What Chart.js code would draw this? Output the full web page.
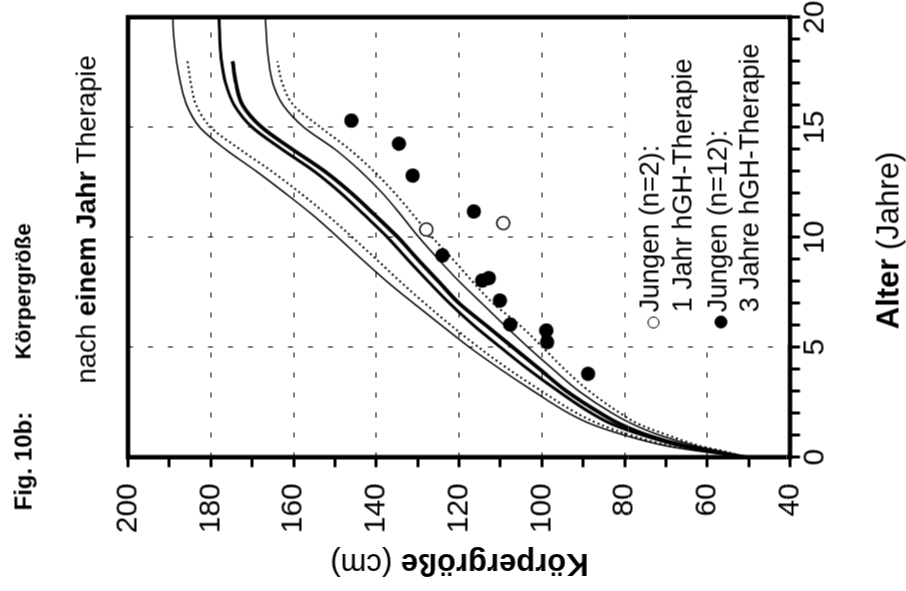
<!DOCTYPE html>
<html><head><meta charset="utf-8">
<script src="https://cdn.jsdelivr.net/npm/chart.js@4.4.1/dist/chart.umd.min.js"></script>
<style>
html,body{margin:0;padding:0;background:#fff;overflow:hidden;width:906px;height:591px}
#rot{position:absolute;left:157.5px;top:-157.5px;width:591px;height:906px;transform:rotate(-90deg);transform-origin:50% 50%;font-family:"Liberation Sans",Arial,sans-serif;color:#000;background:#fff}
#c{position:absolute;left:0;top:0}
.t{position:absolute;white-space:nowrap;line-height:1}
.b{font-weight:bold}
#legend{position:absolute;left:247px;top:627px;width:325px;height:160px;background:#fff}
.li{position:absolute;white-space:nowrap;line-height:1;font-size:27px}
.sym{position:absolute;border-radius:50%;box-sizing:border-box;border:1.4px solid #000}
</style></head><body>
<div id="rot">
<canvas id="c" width="591" height="906"></canvas>
<div class="t b" style="left:81px;top:11px;font-size:24px">Fig. 10b:</div>
<div class="t b" style="left:232px;top:12px;font-size:22.5px">Körpergröße</div>
<div class="t" style="left:208px;top:72px;font-size:27.5px">nach <span class="b">einem Jahr</span> Therapie</div>
<div class="t" style="left:26.5px;top:458.5px;font-size:31px;transform:translate(-50%,-50%) rotate(-90deg)"><span class="b">Körpergröße</span> (cm)</div>
<div class="t" style="left:351px;top:887px;font-size:31px;transform:translate(-50%,-50%)"><span class="b">Alter</span> (Jahre)</div>
<div id="legend">
  <div class="sym" style="left:16.3px;top:20.3px;width:12px;height:12px;background:#fff"></div>
  <div class="li" style="left:32.3px;top:9px">Jungen (n=2):</div>
  <div class="li" style="left:32.3px;top:42px">1 Jahr hGH-Therapie</div>
  <div class="sym" style="left:15.8px;top:86.5px;width:13px;height:13px;background:#000"></div>
  <div class="li" style="left:32.3px;top:77px">Jungen (n=12):</div>
  <div class="li" style="left:32.3px;top:109px">3 Jahre hGH-Therapie</div>
</div>
</div>
<script>
// Alter (Jahre)
const ageRef1 = [0,0.25,0.5,1,1.5,2,3,4,5,6,7,8,9,10,11,12,13,14,15,16,17,18,19,20];
const ageRef2 = [0,0.25,0.5,1,1.5,2,3,4,5,6,7,8,9,10,11,12,13,14,15,16,17,18];
// Perzentilenkurven Körpergröße (cm)
const ref1Upper = [50.8,61,69.5,80,88,93.5,102,110,117.5,124.3,131,137.5,143.5,149.3,155.3,162,169,176.5,182.7,185.8,187.3,188.3,188.9,189.2];
const ref1Median = [50.8,58.5,66,75.5,83,88,96,103.3,110,116.5,122.3,127.5,132.5,137.3,142.8,148.5,155,162.8,170,174.3,176.4,177.4,177.8,178];
const ref1Lower = [50.8,56.5,62.5,71.5,78,83,91,97.3,103.3,109,114.5,120,125,129.7,134,138.5,143.8,150,157.5,162.5,165,166,166.5,166.8];
const ref2Upper = [50.8,60,68.5,78.5,86,91.5,100,108,115.3,122,128.3,134.3,140,145.8,151.8,158.3,165.3,173,180,183.5,184.8,185.6];
const ref2Median = [50.8,58,65,74.5,81,85.8,94,100.5,107,113.5,120,125,130,134.8,140.3,146,152.5,160.3,167.7,172.3,173.9,174.7];
const ref2Lower = [50.8,55.5,61.5,69.5,76.5,81,88.5,94.5,99.8,105.3,111.8,116.8,121.5,126.5,131,135.5,140.6,146.5,153.5,160,162.7,163.9];
// Patienten
const age3J = [15.30,14.25,12.80,11.17,9.17,8.14,8.03,7.12,6.03,5.76,5.23,3.79];
const height3J = [146.0,134.5,131.2,116.4,124.0,112.8,114.4,110.1,107.6,98.9,98.7,88.8];
const age1J = [10.35,10.64];
const height1J = [127.9,109.3];
// Achsen
const ageTicks = [0,5,10,15,20];
const heightTicks = [40,60,80,100,120,140,160,180,200];

const pts = (xs, ys) => xs.map((x, i) => ({x, y: ys[i]}));
const FONT = '"Liberation Sans", Arial, sans-serif';

function curve(xs, ys, width, dash, order) {
  return {type:'line', data: pts(xs, ys), borderColor:'#000', borderWidth: width, borderDash: dash,
    borderCapStyle: 'butt', pointRadius: 0, fill:false, cubicInterpolationMode:'monotone', order};
}

const framePlugin = {
  id: 'frame',
  afterDraw(chart) {
    const {ctx, chartArea: a} = chart;
    ctx.save();
    ctx.lineWidth = 4.5;
    ctx.strokeStyle = '#000';
    ctx.strokeRect(a.left, a.top, a.right - a.left, a.bottom - a.top);
    ctx.restore();
  }
};

new Chart(document.getElementById('c'), {
  type: 'scatter',
  data: {
    datasets: [
      {data: pts(age3J, height3J), pointRadius: 7.2, backgroundColor:'#000', borderColor:'#000', borderWidth:0, showLine:false, order:0},
      {data: pts(age1J, height1J), pointRadius: 6.5, backgroundColor:'#fff', borderColor:'#000', borderWidth:1.4, showLine:false, order:0},
      curve(ageRef1, ref1Upper, 1.5, [], 2),
      curve(ageRef2, ref2Upper, 2, [2, 3], 2),
      curve(ageRef1, ref1Median, 3, [], 2),
      curve(ageRef2, ref2Median, 3.8, [], 2),
      curve(ageRef1, ref1Lower, 1.5, [], 2),
      curve(ageRef2, ref2Lower, 2, [2, 3], 2)
    ]
  },
  options: {
    responsive: false,
    devicePixelRatio: 1,
    animation: false,
    events: [],
    layout: {autoPadding: false, padding: {left: 0, top: 127.5, right: 16.7, bottom: 0}},
    plugins: {legend: {display: false}, tooltip: {enabled: false}},
    scales: {
      x: {
        type: 'linear', position: 'bottom', min: 0, max: 20,
        afterFit(s) { s.height = 116.5; },
        ticks: {stepSize: 1, autoSkip: false, maxRotation: 0, padding: 0, color: '#000',
          font: {family: FONT, size: 30, lineHeight: 1},
          callback: v => ageTicks.includes(v) ? String(v) : ''},
        grid: {
          color: c => (c.tick && c.tick.value % 5 === 0 && c.tick.value > 0 && c.tick.value < 20) ? '#000' : 'rgba(0,0,0,0)',
          lineWidth: 1, tickColor: '#000', tickWidth: 3, tickLength: 10, tickBorderDash: []
        },
        border: {display: false, dash: [5, 15]}
      },
      y: {
        type: 'linear', position: 'left', min: 40, max: 200,
        afterFit(s) { s.width = 134.3; },
        ticks: {stepSize: 10, autoSkip: false, padding: 16, color: '#000',
          font: {family: FONT, size: 30, lineHeight: 1},
          callback: v => heightTicks.includes(v) ? String(v) : ''},
        grid: {
          color: c => (c.tick && c.tick.value % 20 === 0 && c.tick.value > 40 && c.tick.value < 200) ? '#000' : 'rgba(0,0,0,0)',
          lineWidth: 1, tickColor: '#000', tickWidth: 3, tickLength: 10, tickBorderDash: []
        },
        border: {display: false, dash: [5, 15]}
      }
    }
  },
  plugins: [framePlugin]
});
</script>
</body></html>
